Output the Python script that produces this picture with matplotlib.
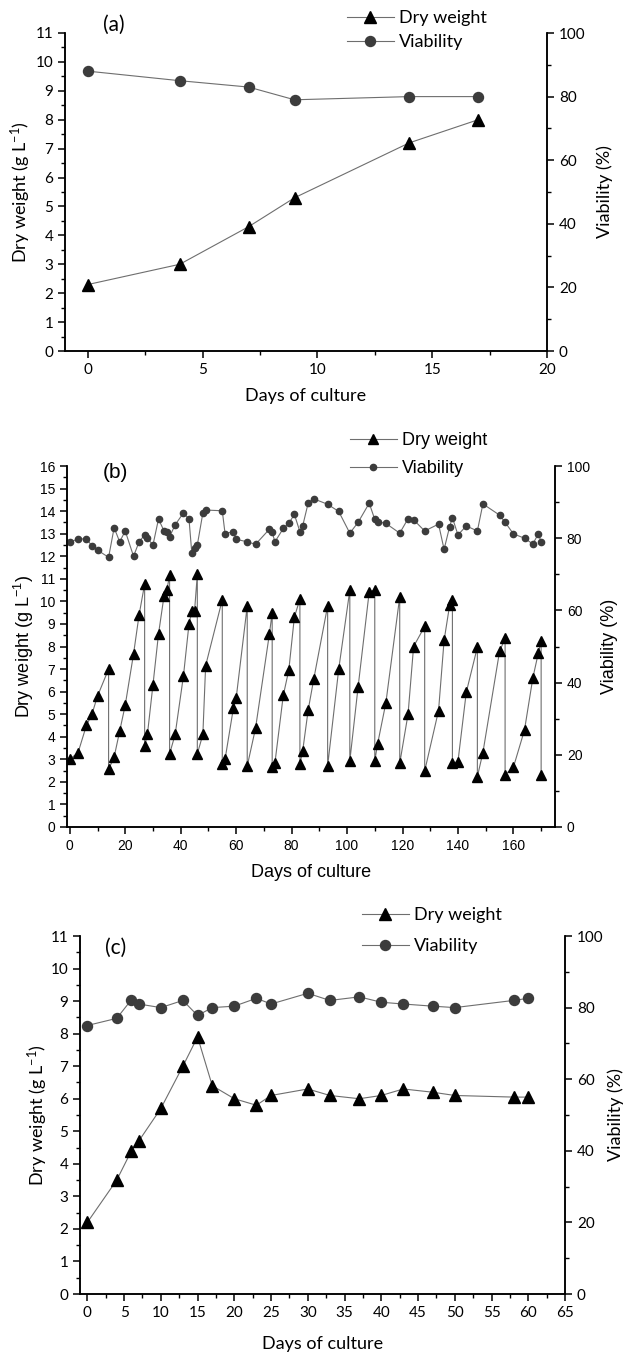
import numpy as np
import matplotlib.pyplot as plt
from matplotlib.ticker import MultipleLocator

plt.rcParams['mathtext.default'] = 'regular'

# ---- panel (a) ----
a_days = [0, 4, 7, 9, 14, 17]
a_dry = [2.3, 3.0, 4.3, 5.3, 7.2, 8.0]
a_via = [88, 85, 83, 79, 80, 80]

# ---- panel (b) ----
b_dry_days = [0, 3, 6, 8, 10, 14, 14, 16, 18, 20, 23, 25, 27, 27, 28, 30, 32, 34, 35, 36, 36,
              38, 41, 43, 44, 45, 46, 46, 48, 49, 55, 55, 56, 59, 60, 64, 64, 67, 72, 73, 73,
              74, 77, 79, 81, 83, 83, 84, 86, 88, 93, 93, 97, 101, 101, 104, 108, 110, 110,
              111, 114, 119, 119, 122, 124, 128, 128, 133, 135, 137, 138, 138, 140, 143, 147,
              147, 149, 155, 157, 157, 160, 164, 167, 169, 170, 170]
b_dry = [3.0, 3.3, 4.5, 5.0, 5.8, 7.0, 2.55, 3.1, 4.25, 5.4, 7.67, 9.4, 10.77, 3.6, 4.1, 6.3,
         8.55, 10.25, 10.5, 11.15, 3.24, 4.1, 6.7, 9.0, 9.57, 9.57, 11.2, 3.24, 4.1, 7.15,
         10.07, 2.8, 3.0, 5.26, 5.7, 9.8, 2.7, 4.38, 8.56, 9.5, 2.65, 2.85, 5.83, 6.96, 9.3,
         10.1, 2.8, 3.37, 5.2, 6.56, 9.8, 2.7, 7.0, 10.5, 2.93, 6.22, 10.43, 10.5, 2.93, 3.67,
         5.5, 10.2, 2.82, 5.0, 8.0, 8.89, 2.48, 5.16, 8.27, 9.83, 10.04, 2.82, 2.9, 5.97, 7.97,
         2.23, 3.3, 7.78, 8.36, 2.32, 2.65, 4.3, 6.6, 7.72, 8.24, 2.29]
b_via_days = [0, 3, 6, 8, 10, 14, 16, 18, 20, 23, 25, 27, 28, 30, 32, 34, 35, 36, 38, 41, 43,
              44, 45, 46, 48, 49, 55, 56, 59, 60, 64, 67, 72, 73, 74, 77, 79, 81, 83, 84, 86,
              88, 93, 97, 101, 104, 108, 110, 111, 114, 119, 122, 124, 128, 133, 135, 137, 138,
              140, 143, 147, 149, 155, 157, 160, 164, 167, 169, 170]
b_via = [78.9, 79.8, 79.8, 77.9, 76.7, 74.7, 82.9, 79.0, 82.0, 75.0, 79.0, 80.9, 80.0, 78.1,
         85.3, 82.0, 81.6, 80.4, 83.7, 87.0, 85.3, 76.0, 77.2, 78.1, 87.0, 87.8, 87.6, 81.3,
         81.8, 79.7, 79.0, 78.3, 82.5, 81.6, 79.0, 82.7, 84.1, 86.6, 81.8, 83.4, 89.8, 90.9,
         89.4, 87.4, 81.4, 84.4, 89.7, 85.2, 84.6, 84.1, 81.4, 85.4, 85.1, 82.0, 83.9, 76.9,
         83.2, 85.7, 80.9, 83.4, 82.0, 89.5, 86.4, 84.4, 81.2, 80.0, 78.4, 81.2, 79.0]

# ---- panel (c) ----
c_days = [0, 4, 6, 7, 10, 13, 15, 17, 20, 23, 25, 30, 33, 37, 40, 43, 47, 50, 58, 60]
c_dry = [2.2, 3.5, 4.4, 4.7, 5.7, 7.0, 7.9, 6.4, 6.0, 5.8, 6.1, 6.3, 6.1, 6.0, 6.1, 6.3,
         6.2, 6.1, 6.05, 6.05]
c_via = [75, 77, 82.2, 81, 80, 82, 77.8, 80, 80.4, 82.6, 81, 84, 82, 83, 81.5, 81, 80.4,
         80, 82, 82.6]

W, H = 625, 1355
fig = plt.figure(figsize=(W / 100, H / 100), dpi=100)

LINE = '#6e6e6e'
VIA_C = '#3c3c3c'


def make_panel(box, xlim, xmaj, ymax, days, dry, vdays, via, label, lab_xy, leg_xy, leg_sp,
               family, tick_fs, lab_fs, msize_tri, msize_dot, pads, dry_days=None):
    left, top, right, bottom = box
    ax = fig.add_axes([left / W, 1 - bottom / H, (right - left) / W, (bottom - top) / H])
    ax2 = ax.twinx()
    ddays = days if dry_days is None else dry_days
    l1, = ax.plot(ddays, dry, color=LINE, lw=0.8, marker='^', ms=msize_tri,
                  mfc='black', mec='black')
    l2, = ax2.plot(vdays, via, color=LINE, lw=0.8, marker='o', ms=msize_dot,
                   mfc=VIA_C, mec=VIA_C)
    ax.set_xlim(*xlim)
    ax.set_ylim(0, ymax)
    ax2.set_ylim(0, 100)
    ax.xaxis.set_major_locator(MultipleLocator(xmaj))
    ax.xaxis.set_minor_locator(MultipleLocator(xmaj / 2))
    ax.yaxis.set_major_locator(MultipleLocator(1))
    ax.yaxis.set_minor_locator(MultipleLocator(0.5))
    ax2.yaxis.set_major_locator(MultipleLocator(20))
    ax2.yaxis.set_minor_locator(MultipleLocator(10))
    for a in (ax, ax2):
        a.spines['top'].set_visible(False)
        for s in a.spines.values():
            s.set_linewidth(1.1)
        a.tick_params(which='major', length=5, width=1.1, labelsize=tick_fs)
        a.tick_params(which='minor', length=3, width=1.0)
        for t in a.get_xticklabels() + a.get_yticklabels():
            t.set_family(family)
    ax.set_xlabel('Days of culture', fontsize=lab_fs, family=family, labelpad=pads[0])
    ax.set_ylabel('Dry weight (g L$^{-1}$)', fontsize=lab_fs, family=family, labelpad=pads[1])
    ax2.set_ylabel('Viability (%)', fontsize=lab_fs, family=family, labelpad=pads[2])
    fig.text(lab_xy[0] / W, 1 - lab_xy[1] / H, label, fontsize=lab_fs + 2, family=family,
             ha='center', va='center')
    fig.legend([l1, l2], ['Dry weight', 'Viability'], loc='upper left',
               bbox_to_anchor=(leg_xy[0] / W, 1 - leg_xy[1] / H), frameon=False,
               prop={'family': family, 'size': lab_fs}, handlelength=2.6,
               handletextpad=0.3, labelspacing=leg_sp, borderaxespad=0, borderpad=0)
    return ax, ax2


make_panel((65, 33, 547, 351), (-1, 20), 5, 11, a_days, a_dry, a_days, a_via,
           '(a)', (114, 25), (347, 10), 0.45, 'Lato', 11, 13, 8.5, 7.2, (8, 2, 8))

make_panel((67, 466, 555, 827), (-1, 175), 20, 16, None, b_dry, b_via_days, b_via,
           '(b)', (115, 473), (350, 432), 0.6, 'Liberation Sans', 10, 13, 6.5, 4.5, (8, 3, 8),
           dry_days=b_dry_days)

make_panel((80, 936, 565, 1294), (-1, 65), 5, 11, c_days, c_dry, c_days, c_via,
           '(c)', (116, 948), (362, 907), 0.85, 'Lato', 11, 13, 8.5, 7.2, (12, 0, 3))

fig.savefig('out.png', dpi=100)
